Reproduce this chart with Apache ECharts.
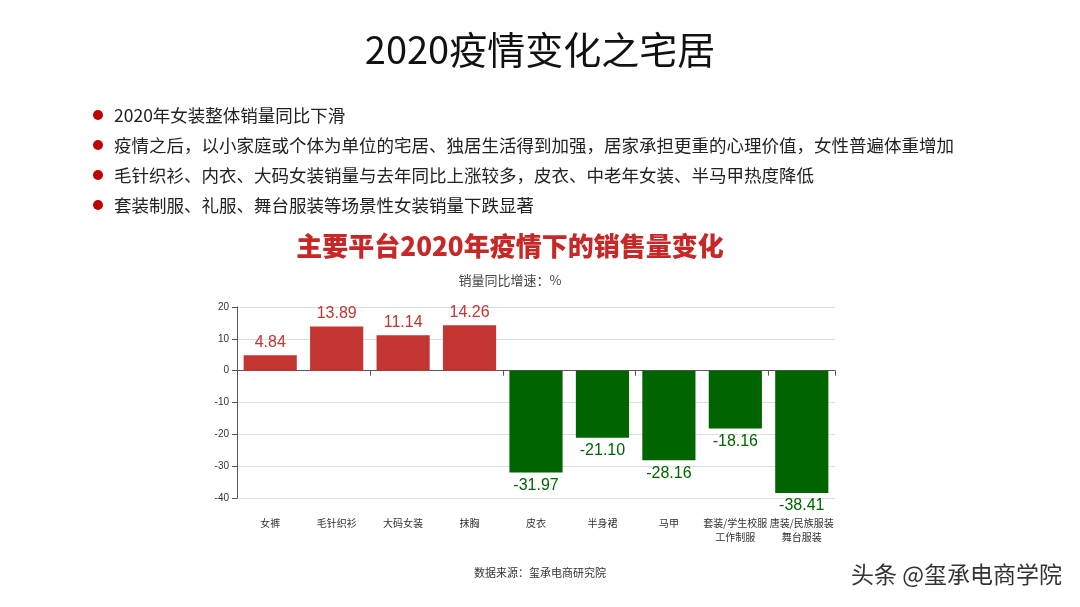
<!DOCTYPE html><html><head><meta charset="utf-8"><script src="https://cdn.jsdelivr.net/npm/echarts@6/dist/echarts.min.js"></script>
<style>html,body{margin:0;background:#fff}#c{width:1080px;height:607px}</style></head><body><div id="c"></div><script>
const categories=['女裤','毛针织衫','大码女装','抹胸','皮衣','半身裙','马甲','套装/学生校服\n工作制服','唐装/民族服装\n舞台服装'];
const values=[4.84,13.89,11.14,14.26,-31.97,-21.10,-28.16,-18.16,-38.41];
const yTicks=[-40,-30,-20,-10,0,10,20];
const bullets=['2020年女装整体销量同比下滑','疫情之后，以小家庭或个体为单位的宅居、独居生活得到加强，居家承担更重的心理价值，女性普遍体重增加','毛针织衫、内衣、大码女装销量与去年同比上涨较多，皮衣、中老年女装、半马甲热度降低','套装制服、礼服、舞台服装等场景性女装销量下跌显著'];
const F='"Noto Sans CJK SC","Noto Sans",sans-serif';
const chart=echarts.init(document.getElementById('c'));
const g=[];
bullets.forEach((b,i)=>{const y=115+i*30;
 g.push({type:'circle',shape:{cx:98,cy:y,r:5},style:{fill:'#c00000'}});
 g.push({type:'text',x:114,y:y,style:{text:b,font:'17.5px '+F,fill:'#222',verticalAlign:'middle'}});});
g.push({type:'text',x:540,y:50,style:{text:'2020疫情变化之宅居',font:'38px '+F,fill:'#111',align:'center',verticalAlign:'middle'}});
g.push({type:'text',x:510,y:246,style:{text:'主要平台2020年疫情下的销售量变化',font:'900 26px '+F,fill:'#c62828',align:'center',verticalAlign:'middle'}});
g.push({type:'text',x:510,y:280,style:{text:'销量同比增速：%',font:'13px '+F,fill:'#444',align:'center',verticalAlign:'middle'}});
g.push({type:'text',x:540,y:573,style:{text:'数据来源：玺承电商研究院',font:'11px '+F,fill:'#333',align:'center',verticalAlign:'middle'}});
g.push({type:'text',x:1062,y:574,style:{text:'头条 @玺承电商学院',font:'23px '+F,fill:'#333',align:'right',verticalAlign:'middle'}});
chart.setOption({animation:false,graphic:g,
 grid:{left:237,right:245,top:307,bottom:109},
 xAxis:[{type:'category',data:categories,axisLine:{onZero:true,lineStyle:{color:'#555'}},axisTick:{show:true,lineStyle:{color:'#555'}},axisLabel:{show:false}},
  {type:'category',data:categories,position:'bottom',axisLine:{show:false},axisTick:{show:false},axisLabel:{interval:0,color:'#333',fontSize:10,fontFamily:F,margin:18,lineHeight:14}}],
 yAxis:{type:'value',min:yTicks[0],max:yTicks[yTicks.length-1],interval:10,axisLine:{show:true,lineStyle:{color:'#555'}},axisTick:{show:true},axisLabel:{color:'#333',fontSize:10},splitLine:{lineStyle:{color:'#ddd'}}},
 series:[{type:'bar',barWidth:'80%',data:values.map(v=>({value:v,itemStyle:{color:v>=0?'#c23531':'#006400'},label:{show:true,position:v>=0?'top':'bottom',color:v>=0?'#c23531':'#006400',fontSize:16,formatter:()=>v.toFixed(2)}}))}]
});
</script></body></html>
